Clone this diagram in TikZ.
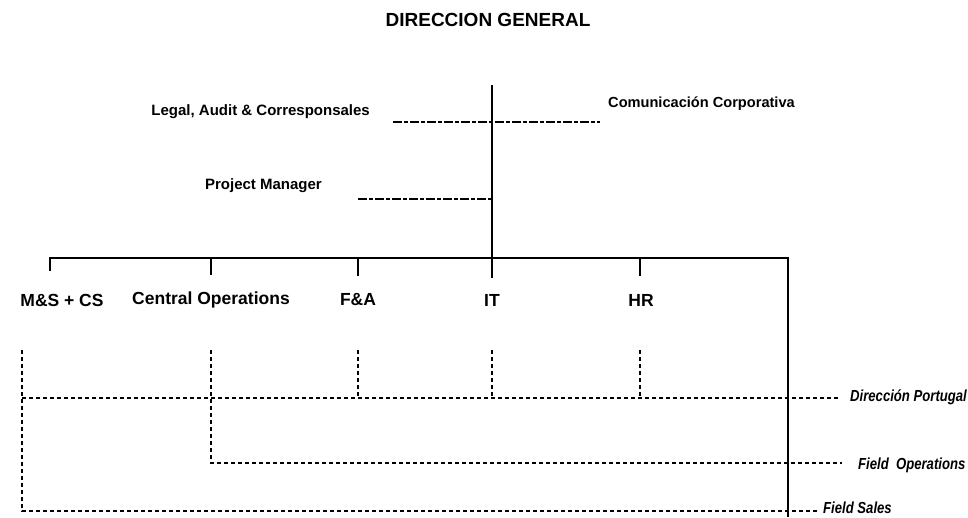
\documentclass[tikz,border=0pt]{standalone}
\usepackage{fontspec}
\setmainfont{Liberation Sans}
\begin{document}
\begin{tikzpicture}[x=1pt,y=-1pt,
  lbl/.style={inner sep=0pt, font=\bfseries\fontsize{17.5}{19}\selectfont},
  small/.style={inner sep=0pt, font=\bfseries\fontsize{15}{17}\selectfont},
  itl/.style={inner sep=0pt, anchor=west, font=\bfseries\itshape\fontsize{16}{18}\selectfont},
  solidline/.style={line width=1.6pt},
  thinline/.style={line width=1.1pt, dash pattern=on 9pt off 2pt on 4pt off 2pt},
  dotline/.style={line width=1.4pt, dash pattern=on 4pt off 3pt}]
\useasboundingbox (0,0) rectangle (968,517);
% titles and labels
\node[lbl, font=\bfseries\fontsize{19}{21}\selectfont] (title) at (488,20) {DIRECCION GENERAL};
\node[small, anchor=east] (legal) at (370,112) {Legal, Audit \& Corresponsales};
\node[small, anchor=west, font=\bfseries\fontsize{14.6}{16}\selectfont] (comu) at (608,104) {Comunicación Corporativa};
\node[small, anchor=east] (pm) at (322,186) {Project Manager};
\node[lbl] (ms) at (62,300) {M\&S + CS};
\node[lbl] (co) at (211,300) {Central Operations};
\node[lbl] (fa) at (358,300) {F\&A};
\node[lbl] (it) at (492,300) {IT};
\node[lbl] (hr) at (641,300) {HR};
\node[itl] (dp) at (850,397) {\scalebox{0.82}[1]{Dirección Portugal}};
\node[itl] (fo) at (858,465) {\scalebox{0.82}[1]{Field\ \ Operations}};
\node[itl] (fs) at (823,508) {\scalebox{0.82}[1]{Field Sales}};
% coordinates
\coordinate (top) at (492,85);
\coordinate (barL) at (50,258);
\coordinate (barR) at (788,258);
\coordinate (barIT) at (492,258);
\coordinate (bottomR) at (788,517);
\coordinate (legL) at (393,122);
\coordinate (legR) at (600,122);
\coordinate (pmL) at (358,199);
\coordinate (pmR) at (492,199);
\coordinate (dpEnd) at (840,398);
\coordinate (foEnd) at (842,463);
\coordinate (fsEnd) at (819,511);
% solid structure
\draw[solidline] (top) -- (barIT);
\draw[solidline] (50,271) -- (barL) -- (barR) -- (bottomR);
\draw[solidline] (211,258) -- (211,275);
\draw[solidline] (358,258) -- (358,276);
\draw[solidline] (492,258) -- (492,278);
\draw[solidline] (640,258) -- (640,276);
% staff lines
\draw[thinline] (legL) -- (legR);
\draw[thinline] (pmL) -- (pmR);
% dotted structure
\draw[dotline] (22,350) -- (22,511) -- (fsEnd);
\draw[dotline] (22,398) -- (dpEnd);
\draw[dotline] (211,350) -- (211,463) -- (foEnd);
\draw[dotline] (358,350) -- (358,398);
\draw[dotline] (492,350) -- (492,398);
\draw[dotline] (640,350) -- (640,398);
\end{tikzpicture}
\end{document}
